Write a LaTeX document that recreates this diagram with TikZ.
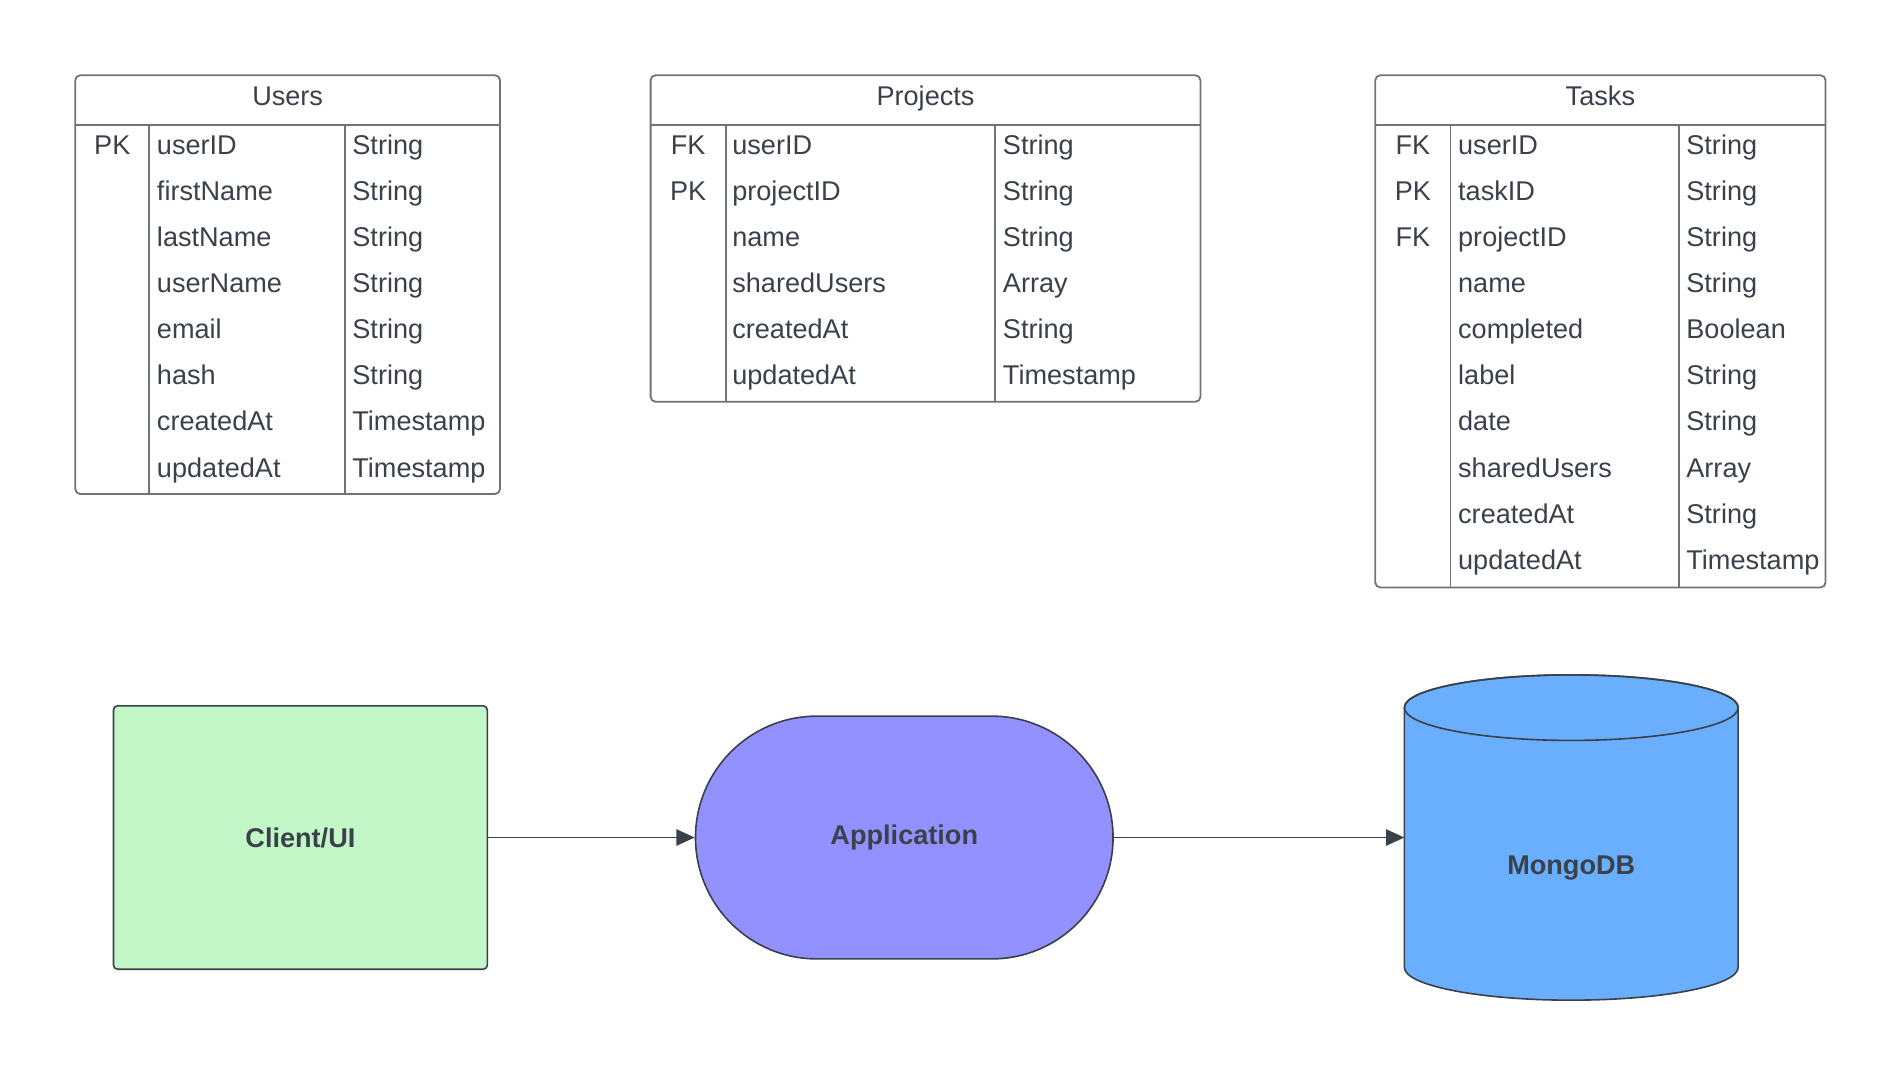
\documentclass[tikz,border=0pt]{standalone}
\usepackage{fontspec}
\setmainfont{Liberation Sans}
\usetikzlibrary{arrows.meta}
\usetikzlibrary{positioning}

\definecolor{ink}{HTML}{3A414A}
\definecolor{rulegray}{HTML}{6F737A}
\definecolor{clientgreen}{HTML}{C3F7C8}
\definecolor{apppurple}{HTML}{9391FF}
\definecolor{dbblue}{HTML}{6AAFFE}

\tikzset{
  tabframe/.style={draw=rulegray,line width=0.9pt,rounded corners=2.5pt},
  tabline/.style={draw=rulegray,line width=0.9pt},
  tabtitle/.style={anchor=base,inner sep=0pt,text=ink},
  keytxt/.style={anchor=base,inner sep=0pt,text=ink},
  field/.style={anchor=base west,inner sep=0pt,text=ink},
  block/.style={draw=ink,line width=0.8pt,text=ink,font=\bfseries\fontsize{13.4pt}{16pt}\selectfont},
}

\begin{document}
\begin{tikzpicture}[line cap=round,line join=round,>={Triangle[length=9pt,width=8pt]},x=0.6pt,y=-0.6pt,font=\fontsize{13.4pt}{16pt}\selectfont]
\useasboundingbox (0,0) rectangle (1567,885.7);
% Users
\draw[tabframe] (62,62) rectangle (412,407);
\draw[tabline] (62,103) -- (412,103);
\draw[tabline] (123,103) -- (123,407);
\draw[tabline] (284,103) -- (284,407);
\node[tabtitle] (users) at (237,87) {Users};
\foreach \k/\f/\t [count=\i] in {PK/userID/String,{}/firstName/String,{}/lastName/String,{}/userName/String,{}/email/String,{}/hash/String,{}/createdAt/Timestamp,{}/updatedAt/Timestamp}
{
\node[keytxt] (users k\i) at (92.5,{127+38*(\i-1)}) {\k};
\node[field] (users f\i) at (129,{127+38*(\i-1)}) {\f};
\node[field] (users t\i) at (290,{127+38*(\i-1)}) {\t};
}
% Projects
\draw[tabframe] (536,62) rectangle (989,331);
\draw[tabline] (536,103) -- (989,103);
\draw[tabline] (598,103) -- (598,331);
\draw[tabline] (820,103) -- (820,331);
\node[tabtitle] (projects) at (762.5,87) {Projects};
\foreach \k/\f/\t [count=\i] in {FK/userID/String,PK/projectID/String,{}/name/String,{}/sharedUsers/Array,{}/createdAt/String,{}/updatedAt/Timestamp}
{
\node[keytxt] (projects k\i) at (567,{127+38*(\i-1)}) {\k};
\node[field] (projects f\i) at (603,{127+38*(\i-1)}) {\f};
\node[field] (projects t\i) at (826,{127+38*(\i-1)}) {\t};
}
% Tasks
\draw[tabframe] (1133,62) rectangle (1504,484);
\draw[tabline] (1133,103) -- (1504,103);
\draw[tabline] (1195,103) -- (1195,484);
\draw[tabline] (1383,103) -- (1383,484);
\node[tabtitle] (tasks) at (1318.5,87) {Tasks};
\foreach \k/\f/\t [count=\i] in {FK/userID/String,PK/taskID/String,FK/projectID/String,{}/name/String,{}/completed/Boolean,{}/label/String,{}/date/String,{}/sharedUsers/Array,{}/createdAt/String,{}/updatedAt/Timestamp}
{
\node[keytxt] (tasks k\i) at (1164,{127+38*(\i-1)}) {\k};
\node[field] (tasks f\i) at (1201,{127+38*(\i-1)}) {\f};
\node[field] (tasks t\i) at (1389,{127+38*(\i-1)}) {\t};
}
% architecture
\node[block,fill=clientgreen,minimum width=184.8pt,minimum height=130.2pt,rounded corners=2pt] (client) at (247.5,690) {Client/UI};
\node[block,fill=apppurple,minimum width=206.4pt,minimum height=120pt,rounded corners=60pt] (app) at (745,690) {Application};
\filldraw[draw=ink,fill=dbblue,line width=0.8pt] (1157,583) -- (1157,797) arc (180:0:137.5 and 27) -- (1432,583) arc (0:-180:137.5 and 27) -- cycle;
\draw[draw=ink,line width=0.8pt] (1294.5,583) ellipse (137.5 and 27);
\node[text=ink,font=\bfseries\fontsize{13.4pt}{16pt}\selectfont] (mongo) at (1294.5,715) {MongoDB};
\coordinate (mongo in) at (1157,690);
\draw[->,draw=ink,fill=ink,line width=0.9pt] (client) -- (app);
\draw[->,draw=ink,fill=ink,line width=0.9pt] (app) -- (mongo in);
\end{tikzpicture}
\end{document}
